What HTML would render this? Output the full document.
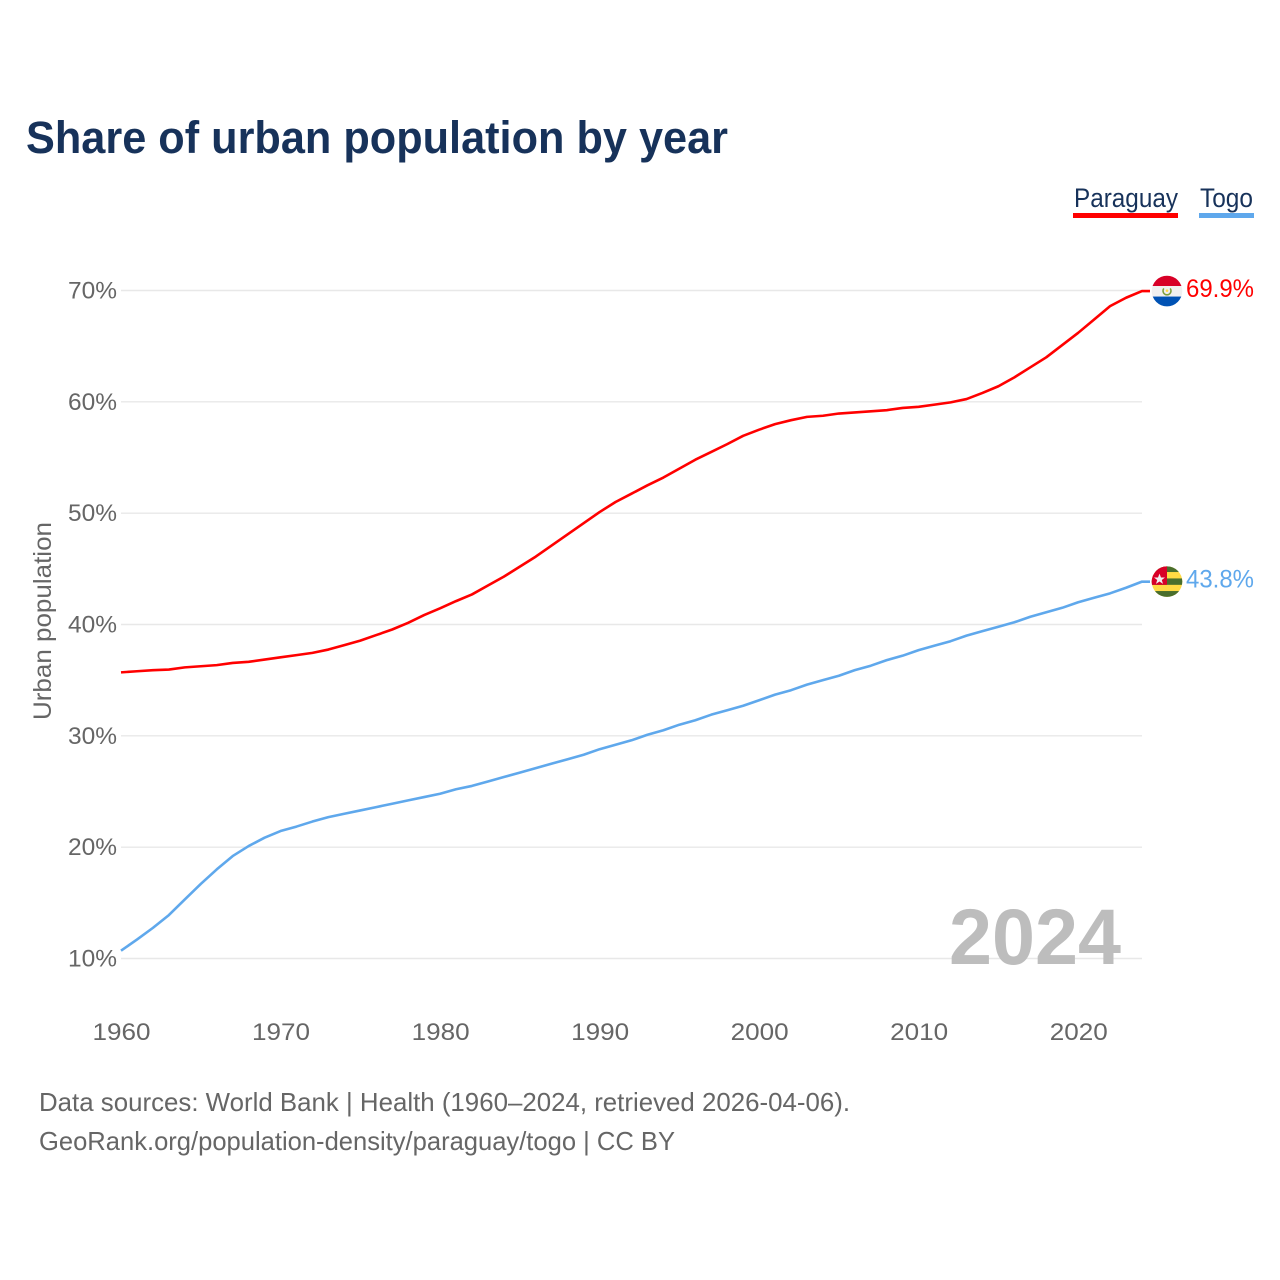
<!DOCTYPE html>
<html lang="en">
<head>
<meta charset="utf-8">
<title>Share of urban population by year</title>
<style>
html,body{margin:0;padding:0;background:#fff;width:1280px;height:1280px;overflow:hidden}
svg{display:block}
text{font-family:"Liberation Sans",sans-serif}
</style>
</head>
<body>
<svg id="chart" xmlns="http://www.w3.org/2000/svg" width="1280" height="1280" viewBox="0 0 1280 1280">
  <defs>
    <clipPath id="flag-clip-py"><circle cx="0" cy="0" r="15.3"/></clipPath>
    <clipPath id="flag-clip-tg"><circle cx="0" cy="0" r="15.3"/></clipPath>
  </defs>
  <rect x="0" y="0" width="1280" height="1280" fill="#fff"/>
  <text x="26" y="153" font-size="45" font-weight="700" fill="#17325a" textLength="702" lengthAdjust="spacingAndGlyphs">Share of urban population by year</text>

  <g>
    <text x="1074" y="207" font-size="27" fill="#17325a" textLength="104" lengthAdjust="spacingAndGlyphs">Paraguay</text>
    <rect x="1073" y="213" width="105" height="5" fill="#ff0000"/>
  </g>
  <g>
    <text x="1200" y="207" font-size="27" fill="#17325a" textLength="53" lengthAdjust="spacingAndGlyphs">Togo</text>
    <rect x="1199" y="213" width="55" height="5" fill="#5fa8ec"/>
  </g>

  <text transform="translate(51,621) rotate(-90)" text-anchor="middle" font-size="25" fill="#666" textLength="198" lengthAdjust="spacingAndGlyphs">Urban population</text>

  <g id="grid"></g>
  <g id="y-ticks"></g>
  <g id="x-ticks"></g>

  <text x="1121" y="964" text-anchor="end" font-size="79" font-weight="700" fill="#bdbdbd" textLength="172" lengthAdjust="spacingAndGlyphs">2024</text>

  <g id="series"></g>

  <g id="flag-paraguay">
    <g clip-path="url(#flag-clip-py)">
      <rect x="-16" y="-16" width="32" height="11" fill="#d80027"/>
      <rect x="-16" y="-5" width="32" height="11" fill="#f0f0f0"/>
      <rect x="-16" y="5.5" width="32" height="11" fill="#0052b4"/>
      <path d="M-3.2,-2.6 A4,4 0 1 0 3.2,-2.6" fill="none" stroke="#7f9f3a" stroke-width="1.6"/>
      <circle cx="0" cy="-0.4" r="1.3" fill="#ffda44"/>
    </g>
  </g>
  <g id="flag-togo">
    <g clip-path="url(#flag-clip-tg)">
      <rect x="-16" y="-16" width="32" height="32" fill="#ffda44"/>
      <rect x="-16" y="-16" width="32" height="6.4" fill="#496e2d"/>
      <rect x="-16" y="-3.2" width="32" height="6.4" fill="#496e2d"/>
      <rect x="-16" y="9.4" width="32" height="7" fill="#496e2d"/>
      <rect x="-16" y="-16" width="16" height="19.2" fill="#d80027"/>
      <polygon points="-7.5,-8 -6,-4.1 -2,-4.1 -5.2,-1.6 -4,2.3 -7.5,-0.1 -11,2.3 -9.8,-1.6 -13,-4.1 -9,-4.1" fill="#f0f0f0"/>
    </g>
  </g>
  <g id="end-labels"></g>

  <text x="39" y="1111" font-size="26" fill="#666" textLength="811" lengthAdjust="spacingAndGlyphs">Data sources: World Bank | Health (1960–2024, retrieved 2026-04-06).</text>
  <text x="39" y="1150" font-size="26" fill="#666" textLength="636" lengthAdjust="spacingAndGlyphs">GeoRank.org/population-density/paraguay/togo | CC BY</text>
</svg>
<script>
const years = [1960,1961,1962,1963,1964,1965,1966,1967,1968,1969,1970,1971,1972,1973,1974,1975,1976,1977,1978,1979,1980,1981,1982,1983,1984,1985,1986,1987,1988,1989,1990,1991,1992,1993,1994,1995,1996,1997,1998,1999,2000,2001,2002,2003,2004,2005,2006,2007,2008,2009,2010,2011,2012,2013,2014,2015,2016,2017,2018,2019,2020,2021,2022,2023,2024];
const paraguayValues = [35.7,35.8,35.9,35.95,36.15,36.25,36.35,36.55,36.65,36.85,37.05,37.25,37.45,37.75,38.15,38.55,39.05,39.55,40.15,40.85,41.45,42.1,42.7,43.5,44.3,45.2,46.1,47.1,48.1,49.1,50.1,51.0,51.75,52.5,53.2,54.0,54.8,55.5,56.2,56.95,57.5,58.0,58.35,58.65,58.75,58.95,59.05,59.15,59.25,59.45,59.55,59.75,59.95,60.25,60.8,61.4,62.2,63.1,64.0,65.1,66.2,67.4,68.6,69.35,69.95];
const togoValues = [10.7,11.7,12.75,13.9,15.3,16.7,18.0,19.2,20.1,20.85,21.45,21.85,22.3,22.7,23.0,23.3,23.6,23.9,24.2,24.5,24.8,25.2,25.5,25.9,26.3,26.7,27.1,27.5,27.9,28.3,28.8,29.2,29.6,30.1,30.5,31.0,31.4,31.9,32.3,32.7,33.2,33.7,34.1,34.6,35.0,35.4,35.9,36.3,36.8,37.2,37.7,38.1,38.5,39.0,39.4,39.8,40.2,40.7,41.1,41.5,42.0,42.4,42.8,43.3,43.85];
const yTickValues = [10,20,30,40,50,60,70];
const xTickValues = [1960,1970,1980,1990,2000,2010,2020];
const paraguayLabel = "69.9%";
const togoLabel = "43.8%";

const NS = "http://www.w3.org/2000/svg";
function xScale(year){ return 121 + (year - 1960) * (1142 - 121) / (2024 - 1960); }
function yScale(pct){ return 958.5 - (pct - 10) * (958.5 - 290.5) / (70 - 10); }
function make(tag, attrs, parent, txt){
  const el = document.createElementNS(NS, tag);
  for (const k in attrs) el.setAttribute(k, attrs[k]);
  if (txt !== undefined) el.textContent = txt;
  parent.appendChild(el);
  return el;
}

const gridG = document.getElementById("grid");
const yG = document.getElementById("y-ticks");
const xG = document.getElementById("x-ticks");
const seriesG = document.getElementById("series");
const labelsG = document.getElementById("end-labels");

yTickValues.forEach(function(v){
  const line = make("line", {x1:xScale(1960), x2:xScale(2024), y1:yScale(v), y2:yScale(v), stroke:"#e8e8e8", "stroke-width":1.4}, gridG);
  
  
  const t = make("text", {x:117, y:yScale(v)+8, "text-anchor":"end", "font-size":24, fill:"#666", textLength:49, lengthAdjust:"spacingAndGlyphs"}, yG, v + "%");
  
  
});

xTickValues.forEach(function(v){
  const t = make("text", {x:xScale(v)+0.5, y:1040, "text-anchor":"middle", "font-size":24, fill:"#666", textLength:58, lengthAdjust:"spacingAndGlyphs"}, xG, String(v));
  
  
});

function drawSeries(values, color){
  const pts = values.map(function(v, i){ return xScale(years[i]).toFixed(2) + "," + yScale(v).toFixed(2); });
  const endY = yScale(values[values.length - 1]);
  pts.push((xScale(2024) + 8) + "," + endY.toFixed(2));
  const line = make("polyline", {points:pts.join(" "), fill:"none", stroke:color, "stroke-width":2.6, "stroke-linejoin":"round"}, seriesG);
  return line;
}
const paraguayLine = drawSeries(paraguayValues, "#ff0000");


const togoLine = drawSeries(togoValues, "#5fa8ec");



const pyEnd = yScale(paraguayValues[paraguayValues.length - 1]);
const tgEnd = yScale(togoValues[togoValues.length - 1]);
document.getElementById("flag-paraguay").setAttribute("transform", "translate(1167," + pyEnd + ")");
document.getElementById("flag-togo").setAttribute("transform", "translate(1167," + tgEnd + ")");

const pyText = make("text", {x:1186, y:pyEnd+6, "font-size":25, fill:"#ff0000", textLength:68, lengthAdjust:"spacingAndGlyphs"}, labelsG, paraguayLabel);


const tgText = make("text", {x:1186, y:tgEnd+6, "font-size":25, fill:"#5fa8ec", textLength:68, lengthAdjust:"spacingAndGlyphs"}, labelsG, togoLabel);


</script>
</body>
</html>
